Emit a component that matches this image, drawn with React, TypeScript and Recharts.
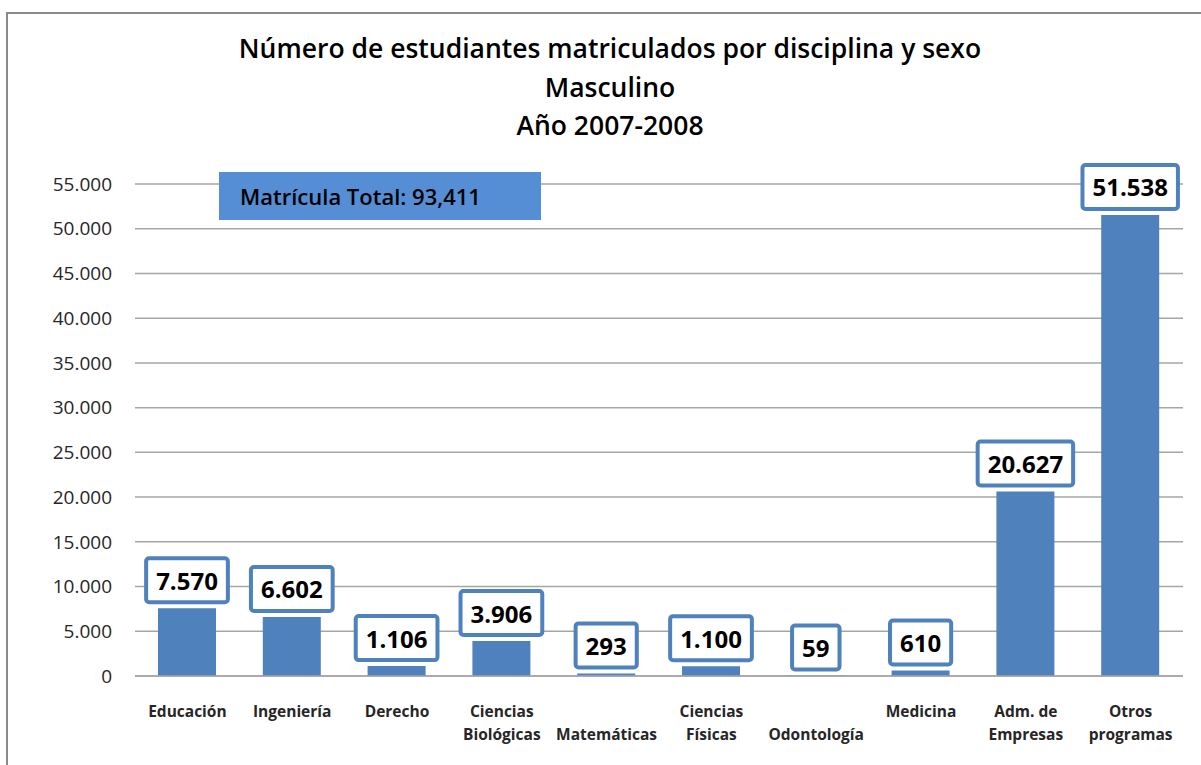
import React from "react";
import {
  BarChart,
  Bar,
  XAxis,
  YAxis,
  CartesianGrid,
  LabelList,
} from "recharts";

// categories, with how the axis label is split into two lines
const categories = [
  "Educación",
  "Ingeniería",
  "Derecho",
  "Ciencias Biológicas",
  "Matemáticas",
  "Ciencias Físicas",
  "Odontología",
  "Medicina",
  "Adm. de Empresas",
  "Otros programas",
];
const labelLines = [
  ["Educación", ""],
  ["Ingeniería", ""],
  ["Derecho", ""],
  ["Ciencias", "Biológicas"],
  ["", "Matemáticas"],
  ["Ciencias", "Físicas"],
  ["", "Odontología"],
  ["Medicina", ""],
  ["Adm. de", "Empresas"],
  ["Otros", "programas"],
];
const masculino = [7570, 6602, 1106, 3906, 293, 1100, 59, 610, 20627, 51538];
const yTicks = [0, 5000, 10000, 15000, 20000, 25000, 30000, 35000, 40000, 45000, 50000, 55000];

const titleLines = [
  "Número de estudiantes matriculados por disciplina y sexo",
  "Masculino",
  "Año 2007-2008",
];
const totalText = "Matrícula Total: 93,411";

const data = categories.map((c, i) => ({ name: c, value: masculino[i] }));

const FONT = "'Open Sans', 'DejaVu Sans', sans-serif";
const BLUE = "#4F81BD";

const fmt = (v: number) => String(v).replace(/\B(?=(\d{3})+(?!\d))/g, ".");

let ctx: CanvasRenderingContext2D | null = null;
const measure = (txt: string, font: string) => {
  if (!ctx) ctx = document.createElement("canvas").getContext("2d");
  if (!ctx) return txt.length * 13;
  ctx.font = font;
  return ctx.measureText(txt).width;
};

const XTick = (props: any) => {
  const { x, y, payload } = props;
  const idx = categories.indexOf(payload.value);
  const lines = labelLines[idx] || [payload.value, ""];
  return (
    <g>
      {lines.map((l, i) =>
        l ? (
          <text
            key={i}
            x={x}
            y={y + 35 + i * 23}
            textAnchor="middle"
            dominantBaseline="central"
            fontFamily={FONT}
            fontWeight="bold"
            fontSize={15.5}
            fill="#262626"
          >
            {l}
          </text>
        ) : null
      )}
    </g>
  );
};

const ValueBox = (props: any) => {
  const { x, y, width, value } = props;
  const txt = fmt(value);
  const w = measure(txt, `bold 24px ${FONT}`) + 20;
  const h = 44;
  const cx = x + width / 2;
  const bottom = y - 6;
  return (
    <g>
      <rect
        x={cx - w / 2}
        y={bottom - h}
        width={w}
        height={h}
        rx={3}
        fill="#fff"
        stroke={BLUE}
        strokeWidth={4}
      />
      <text
        x={cx}
        y={bottom - h / 2}
        textAnchor="middle"
        dominantBaseline="central"
        fontFamily={FONT}
        fontWeight="bold"
        fontSize={24}
        fill="#000"
      >
        {txt}
      </text>
    </g>
  );
};

export default function App() {
  return (
    <div
      style={{
        position: "absolute",
        left: 0,
        top: 0,
        width: 1201,
        height: 765,
        overflow: "hidden",
        background: "#fff",
      }}
    >
      <div
        style={{
          position: "absolute",
          left: 6,
          top: 12,
          width: 1300,
          height: 900,
          border: "2px solid #8a8a8a",
        }}
      />
      <div
        style={{
          position: "absolute",
          left: 0,
          top: 29,
          width: 1220,
          textAlign: "center",
          fontFamily: FONT,
          fontWeight: 600,
          fontSize: 26.5,
          lineHeight: "38.5px",
          color: "#000",
        }}
      >
        {titleLines.map((t) => (
          <div key={t}>{t}</div>
        ))}
      </div>
      <div style={{ position: "absolute", left: 0, top: 0 }}>
        <BarChart
          width={1201}
          height={765}
          data={data}
          margin={{ top: 184, right: 18, left: 0, bottom: 29 }}
        >
          <CartesianGrid vertical={false} stroke="#a6a6a6" strokeWidth={1.5} />
          <XAxis
            dataKey="name"
            interval={0}
            height={60}
            tickLine={false}
            tickSize={0}
            tickMargin={0}
            axisLine={{ stroke: "#a6a6a6", strokeWidth: 1.5 }}
            tick={<XTick />}
          />
          <YAxis
            width={135}
            domain={[0, 55000]}
            ticks={yTicks}
            interval={0}
            axisLine={false}
            tickLine={false}
            tickSize={0}
            tickMargin={23}
            tickFormatter={fmt}
            tick={{ fontFamily: FONT, fontSize: 19, fill: "#262626" }}
          />
          <Bar dataKey="value" fill={BLUE} barSize={58} isAnimationActive={false}>
            <LabelList dataKey="value" content={<ValueBox />} />
          </Bar>
        </BarChart>
      </div>
      <div
        style={{
          position: "absolute",
          left: 219,
          top: 172,
          width: 322,
          height: 48,
          background: "#558ED5",
          boxSizing: "border-box",
          paddingLeft: 21,
          lineHeight: "48px",
          fontFamily: FONT,
          fontWeight: 600,
          fontSize: 22,
          color: "#000",
        }}
      >
        {totalText}
      </div>
    </div>
  );
}
